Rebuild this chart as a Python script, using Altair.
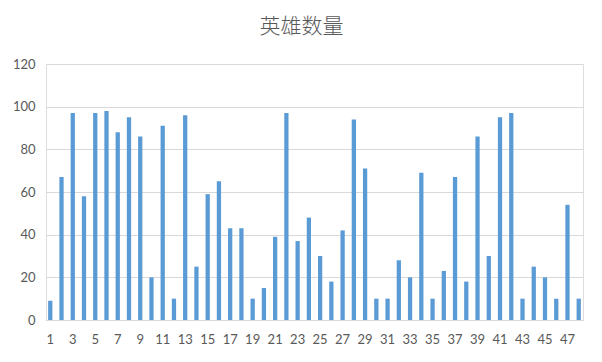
import altair as alt
import pandas as pd

categories = list(range(1, 49))
values = [9, 67, 97, 58, 97, 98, 88, 95, 86, 20, 91, 10, 96, 25, 59, 65,
          43, 43, 10, 15, 39, 97, 37, 48, 30, 18, 42, 94, 71, 10, 10, 28,
          20, 69, 10, 23, 67, 18, 86, 30, 95, 97, 10, 25, 20, 10, 54, 10]
x_tick_labels = list(range(1, 49, 2))
y_ticks = [0, 20, 40, 60, 80, 100, 120]

df = pd.DataFrame({"id": categories, "count": values})

chart = alt.Chart(df).mark_bar(color="#5B9BD5").encode(
    x=alt.X("id:O", title=None,
            scale=alt.Scale(paddingInner=0.62, paddingOuter=0.19),
            axis=alt.Axis(values=x_tick_labels, labelAngle=0, ticks=False,
                          domainColor="#D9D9D9", labelColor="#595959",
                          labelFont="Lato", labelFontSize=13, labelPadding=13)),
    y=alt.Y("count:Q", title=None,
            scale=alt.Scale(domain=[0, 120]),
            axis=alt.Axis(values=y_ticks, ticks=False, domain=False,
                          gridColor="#D9D9D9", labelColor="#595959",
                          labelFont="Lato", labelFontSize=13, labelPadding=11)),
).properties(
    width=537,
    height=256,
    title=alt.TitleParams("英雄数量", font="Noto Sans CJK SC", fontSize=21,
                          fontWeight=300, color="#595959",
                          anchor="middle", dx=-13, offset=21),
    autosize=alt.AutoSizeParams(type="none"),
    padding={"left": 38, "top": 56, "right": 11, "bottom": 34},
).configure_view(stroke=None).configure(background="white")

chart.save("out.html", embed_options={"renderer": "svg", "actions": False})
